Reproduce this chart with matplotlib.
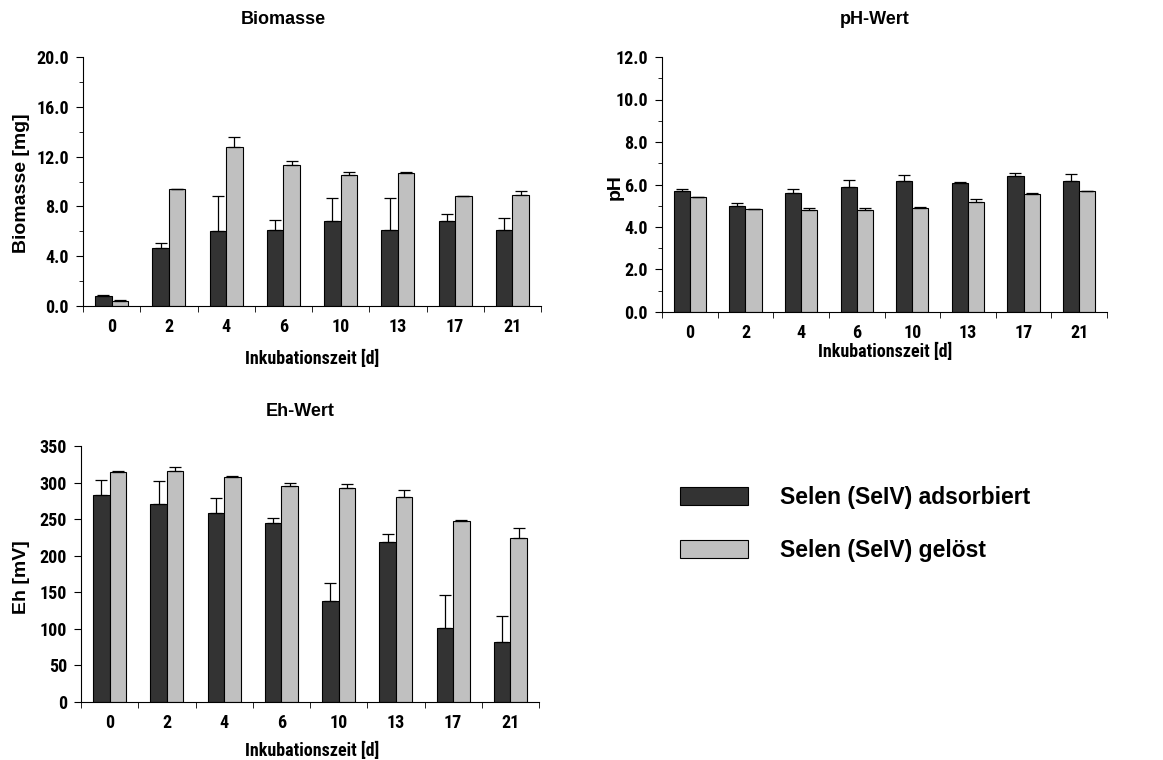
import numpy as np
import matplotlib
matplotlib.use("Agg")
import matplotlib.pyplot as plt
from matplotlib.patches import Patch
from matplotlib.ticker import MultipleLocator, FixedLocator

days = ["0", "2", "4", "6", "10", "13", "17", "21"]

bio_ads = [0.78, 4.69, 6.02, 6.08, 6.8, 6.08, 6.8, 6.08]
bio_ads_err = [0.08, 0.37, 2.79, 0.8, 1.9, 2.62, 0.62, 0.99]
bio_sol = [0.4, 9.4, 12.77, 11.35, 10.55, 10.66, 8.81, 8.89]
bio_sol_err = [0.08, 0.0, 0.8, 0.3, 0.21, 0.08, 0.0, 0.32]

ph_ads = [5.71, 5.0, 5.6, 5.9, 6.18, 6.07, 6.42, 6.18]
ph_ads_err = [0.09, 0.13, 0.19, 0.3, 0.25, 0.06, 0.12, 0.31]
ph_sol = [5.41, 4.86, 4.82, 4.82, 4.88, 5.19, 5.55, 5.71]
ph_sol_err = [0.0, 0.0, 0.06, 0.06, 0.06, 0.13, 0.05, 0.0]

eh_ads = [283, 271, 258, 245, 138, 219, 100.6, 81.5]
eh_ads_err = [21, 31, 21, 6, 25, 11, 46, 36.5]
eh_sol = [314, 316, 307, 295, 292, 280, 247, 224]
eh_sol_err = [1.5, 5, 1.5, 5, 6, 10, 1.5, 14]

dark = "#333333"
light = "#c0c0c0"
narrow = ["Roboto Condensed", "DejaVu Sans"]
arial = ["Liberation Sans", "DejaVu Sans"]

W, H = 1163, 760
fig = plt.figure(figsize=(W / 100, H / 100), dpi=100)


def panel(rect, ads, ads_err, sol, sol_err, ymax, major, minor, fmt):
    ax = fig.add_axes(rect)
    x = np.arange(len(days))
    w = 0.29
    ax.bar(x - w / 2, ads, w, color=dark, edgecolor="black", linewidth=0.8,
           yerr=[np.zeros(len(ads)), ads_err], capsize=4,
           error_kw=dict(elinewidth=0.9, capthick=0.9, ecolor="black"))
    ax.bar(x + w / 2, sol, w, color=light, edgecolor="black", linewidth=0.8,
           yerr=[np.zeros(len(sol)), sol_err], capsize=4,
           error_kw=dict(elinewidth=0.9, capthick=0.9, ecolor="black"))
    ax.set_xlim(-0.5, 7.5)
    ax.set_ylim(0, ymax)
    for s in ["top", "right"]:
        ax.spines[s].set_visible(False)
    ax.set_xticks(x)
    ax.set_xticklabels(days)
    ax.xaxis.set_minor_locator(FixedLocator(np.arange(-0.5, 8, 1.0)))
    ax.tick_params(axis="x", which="major", length=0, pad=9)
    ax.tick_params(axis="x", which="minor", length=4, direction="out")
    yt = np.arange(0, ymax + major / 2, major)
    ax.set_yticks(yt)
    ax.set_yticklabels([fmt.format(v) for v in yt])
    if minor:
        ax.yaxis.set_minor_locator(MultipleLocator(minor))
    ax.tick_params(axis="y", which="major", length=5, pad=5)
    ax.tick_params(axis="y", which="minor", length=3)
    for lab in ax.get_xticklabels() + ax.get_yticklabels():
        lab.set_family(narrow)
        lab.set_fontweight("bold")
        lab.set_fontsize(13)
    return ax


def box(l, t, r, b):
    return [l / W, 1 - b / H, (r - l) / W, (b - t) / H]


panel(box(83, 57, 541, 306), bio_ads, bio_ads_err, bio_sol, bio_sol_err,
      20.0, 4.0, 2.0, "{:.1f}")
panel(box(662, 57, 1107, 312), ph_ads, ph_ads_err, ph_sol, ph_sol_err,
      12.0, 2.0, 1.0, "{:.1f}")
panel(box(81, 446, 539, 702), eh_ads, eh_ads_err, eh_sol, eh_sol_err,
      350, 50, None, "{:.0f}")


def label(px, py, s, fam, size, rot=0):
    fig.text(px / W, 1 - py / H, s, ha="center", va="center", rotation=rot,
             family=fam, fontweight="bold", fontsize=size)


# titles
label(283, 20, "Biomasse", arial, 13)
label(875, 20, "pH-Wert", arial, 13)
label(300, 412, "Eh-Wert", arial, 13)

# y labels
label(22, 183, "Biomasse [mg]", arial, 14, 90)
label(615, 187, "pH", arial, 14, 90)
label(22, 577, "Eh [mV]", arial, 14, 90)

# x labels
label(312, 359, "Inkubationszeit [d]", narrow, 13)
label(885, 352, "Inkubationszeit [d]", narrow, 13)
label(312, 751, "Inkubationszeit [d]", narrow, 13)

handles = [Patch(facecolor=dark, edgecolor="black", linewidth=0.8),
           Patch(facecolor=light, edgecolor="black", linewidth=0.8)]
fig.legend(handles, ["Selen (SeIV) adsorbiert", "Selen (SeIV) gelöst"],
           loc="upper left", bbox_to_anchor=(680 / W, 1 - 486 / H),
           borderaxespad=0, borderpad=0,
           frameon=False, handlelength=2.97, handleheight=0.83, handletextpad=1.4,
           labelspacing=1.3, prop=dict(family=arial, weight="bold", size=16.5))

fig.savefig("out.png", dpi=100)
